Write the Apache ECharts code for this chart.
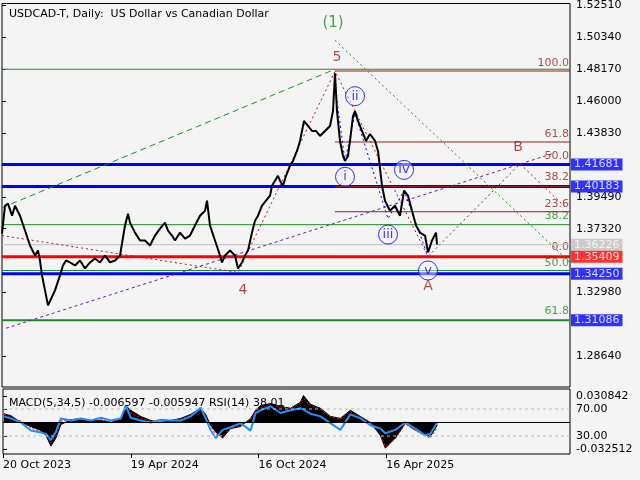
<!DOCTYPE html>
<html>
<head>
<meta charset="utf-8">
<script src="https://cdn.jsdelivr.net/npm/echarts@6/dist/echarts.min.js"></script>
<style>
  html, body { margin: 0; padding: 0; background: #f4f4f4; }
  #chart { width: 640px; height: 480px; }
</style>
</head>
<body>
<div id="chart"></div>
<script>
const FONT = "DejaVu Sans";

// bar index (trading days since 20 Oct 2023) and close price
const barIndex = [0, 3, 6, 10, 13, 18, 23, 28, 33, 36, 38, 40, 43, 46, 48, 53, 58, 61, 64, 68, 73, 78, 83, 88, 93, 98, 103, 108, 113, 118, 123, 126, 128, 133, 138, 143, 148, 153, 158, 163, 166, 170, 173, 178, 183, 188, 193, 198, 203, 205, 208, 213, 218, 220, 223, 228, 233, 236, 240, 243, 246, 250, 253, 256, 260, 264, 268, 270, 273, 276, 278, 281, 284, 288, 291, 295, 298, 300, 302, 306, 310, 314, 318, 323, 328, 331, 333, 335, 338, 341, 343, 346, 348, 351, 353, 356, 360, 364, 368, 373, 376, 380, 383, 388, 393, 398, 402, 406, 410, 414, 418, 423, 426, 430, 434, 435];
const closes = [1.3698, 1.3888, 1.3902, 1.3820, 1.3888, 1.3820, 1.3719, 1.3617, 1.3549, 1.3583, 1.3515, 1.3414, 1.3312, 1.3210, 1.3197, 1.3312, 1.3414, 1.3481, 1.3515, 1.3502, 1.3481, 1.3515, 1.3461, 1.3502, 1.3529, 1.3502, 1.3549, 1.3502, 1.3515, 1.3549, 1.3753, 1.3834, 1.3773, 1.3705, 1.3651, 1.3651, 1.3617, 1.3685, 1.3732, 1.3773, 1.3719, 1.3685, 1.3651, 1.3705, 1.3664, 1.3685, 1.3753, 1.3820, 1.3854, 1.3922, 1.3753, 1.3651, 1.3549, 1.3502, 1.3549, 1.3583, 1.3549, 1.3461, 1.3502, 1.3549, 1.3583, 1.3705, 1.3786, 1.3820, 1.3888, 1.3922, 1.3956, 1.4024, 1.4058, 1.4092, 1.4058, 1.4024, 1.4092, 1.4159, 1.4193, 1.4261, 1.4329, 1.4397, 1.4465, 1.4431, 1.4397, 1.4397, 1.4363, 1.4397, 1.4431, 1.4532, 1.4790, 1.4532, 1.4329, 1.4227, 1.4193, 1.4227, 1.4329, 1.4498, 1.4532, 1.4465, 1.4397, 1.4329, 1.4376, 1.4329, 1.4261, 1.4024, 1.3922, 1.3854, 1.3888, 1.3820, 1.3990, 1.3956, 1.3854, 1.3753, 1.3705, 1.3685, 1.3570, 1.3651, 1.3705, 1.3624];

// MACD histogram / RSI in indicator-pane units (RSI scale)
const indIndex = [1, 8, 18, 28, 38, 43, 48, 53, 58, 68, 78, 88, 98, 108, 118, 123, 128, 138, 148, 158, 168, 178, 188, 198, 203, 208, 213, 220, 228, 238, 248, 253, 258, 268, 278, 288, 298, 301, 308, 318, 328, 338, 348, 358, 368, 378, 383, 393, 403, 413, 423, 428, 435];
const macdHist = [63, 60, 50, 44, 38, 31, 15, 27, 47, 54, 56, 53, 53, 50, 56, 75, 68, 59, 53, 50, 53, 56, 62, 71, 62, 46, 36, 27, 41, 44, 56, 68, 75, 78, 74, 71, 80, 90, 77, 71, 59, 56, 68, 59, 50, 31, 12, 27, 49, 39, 32, 29, 46];
const rsiVals = [59, 56, 50, 38, 35, 33, 24, 36, 56, 53, 56, 53, 57, 53, 56, 75, 57, 53, 50, 54, 53, 53, 59, 72, 56, 39, 27, 39, 43, 49, 38, 64, 68, 74, 64, 68, 71, 69, 63, 59, 49, 39, 62, 56, 46, 41, 34, 39, 50, 41, 31, 33, 50];
const signalVals = [62, 58, 52, 42, 36, 32, 20, 30, 52, 54, 55, 53, 54, 51, 55, 72, 64, 57, 52, 51, 53, 55, 61, 69, 60, 44, 33, 30, 42, 45, 54, 66, 72, 76, 73, 71, 78, 86, 75, 70, 58, 55, 66, 58, 50, 33, 14, 26, 48, 38, 30, 27, 42];

const priceTicks = [1.52510, 1.50340, 1.48170, 1.46000, 1.43830, 1.39490, 1.37320, 1.32980, 1.28640];
const dateTicks = [0, 128, 256, 384];
const dateLabels = ["20 Oct 2023", "19 Apr 2024", "16 Oct 2024", "16 Apr 2025"];
const indTicks = [89.3, 70, 30, 10.7];
const indLabels = ["0.030842", "70.00", "30.00", "-0.032512"];

// level lines [price, color, width, startIndex]
const levels = [
  [1.4817, "#1e8c1e", 1, 0],
  [1.4805, "#a01e1e", 1, 333],
  [1.4322, "#a01e1e", 1, 333],
  [1.4165, "#1e8c1e", 1, 0],
  [1.41681, "#0000ff", 3, 0],
  [1.40183, "#0000ff", 3, 0],
  [1.4018, "#a01e1e", 1, 333],
  [1.3847, "#a01e1e", 1, 333],
  [1.3759, "#1e8c1e", 1, 0],
  [1.36226, "#c0c0c0", 1, 0],
  [1.35409, "#ff0000", 3, 0],
  [1.3447, "#1e8c1e", 1, 0],
  [1.34250, "#0000ff", 3, 0],
  [1.31086, "#1e8c1e", 2, 0]
];
// price boxes [price, background, text]
const priceBoxes = [
  [1.41681, "#0000ff", "#fff"],
  [1.40183, "#0000ff", "#fff"],
  [1.36226, "#c0c0c0", "#fff"],
  [1.35409, "#ff0000", "#fff"],
  [1.34250, "#0000ff", "#fff"],
  [1.31086, "#0000ff", "#fff"]
];
// fibo texts [text, price, color]
const fibTexts = [
  ["100.0", 1.4858, "#a01e1e"], ["61.8", 1.4376, "#a01e1e"], ["50.0", 1.4227, "#a01e1e"],
  ["38.2", 1.4085, "#a01e1e"], ["23.6", 1.3902, "#a01e1e"], ["38.2", 1.3814, "#1e8c1e"],
  ["0.0", 1.3603, "#a01e1e"], ["50.0", 1.3495, "#1e8c1e"], ["61.8", 1.3170, "#1e8c1e"]
];
// wave labels [text, index, price, color, size]
const waveTexts = [
  ["(1)", 331, 1.5129, "#1e8c1e", 15], ["5", 335, 1.4898, "#a01e1e", 14],
  ["4", 241, 1.3312, "#a01e1e", 14], ["A", 426, 1.3339, "#a01e1e", 14],
  ["B", 516, 1.4288, "#a01e1e", 14]
];
const waveCircles = [["i", 343, 1.4085], ["ii", 353, 1.4634], ["iii", 386, 1.3692], ["iv", 402, 1.4132], ["v", 426, 1.3447]];

// trend / wave lines [points, color, type]
const trendLines = [
  [[[0, 1.3874], [333, 1.4817]], "#1e8c1e", [6, 4]],
  [[[333, 1.5014], [568, 1.3502]], "#1e8c1e", [2, 3]],
  [[[4, 1.3054], [553, 1.4248]], "#6a1ea0", [3, 3]],
  [[[0, 1.3685], [236, 1.3434], [333, 1.4803], [426, 1.3543], [518, 1.4173], [565, 1.3868]], "#a01e1e", [2, 3]],
  [[[335, 1.4600], [343, 1.4193], [353, 1.4515], [386, 1.3800], [402, 1.3990], [426, 1.3543]], "#0000ff", [2, 3]]
];

const chart = echarts.init(document.getElementById("chart"));
const series = [];

for (const [v, color, w, start] of levels) {
  series.push({ type: "line", data: [[start, v], [568, v]], symbol: "none", silent: true,
    lineStyle: { color, width: w }, xAxisIndex: 0, yAxisIndex: 0 });
}
for (const [pts, color, dash] of trendLines) {
  series.push({ type: "line", data: pts, symbol: "none", silent: true,
    lineStyle: { color, width: 1, type: dash }, xAxisIndex: 0, yAxisIndex: 0 });
}
series.push({
  type: "line", data: barIndex.map((x, i) => [x, closes[i]]), symbol: "none",
  lineStyle: { color: "#000", width: 2 }, xAxisIndex: 0, yAxisIndex: 0, z: 5
});
series.push({
  type: "scatter", symbolSize: 0, clip: false, xAxisIndex: 0, yAxisIndex: 0,
  data: fibTexts.map(([t, v, c]) => ({ value: [567, v], label: { formatter: t, color: c } })),
  label: { show: true, position: "left", distance: 0, fontFamily: FONT, fontSize: 11 }
});
series.push({
  type: "scatter", symbolSize: 0, clip: false, xAxisIndex: 0, yAxisIndex: 0, z: 6,
  data: waveTexts.map(([t, x, v, c, s]) => ({ value: [x, v], label: { formatter: t, color: c, fontSize: s } })),
  label: { show: true, position: "inside", fontFamily: FONT }
});
series.push({
  type: "scatter", symbol: "circle", symbolSize: 19, clip: false, xAxisIndex: 0, yAxisIndex: 0, z: 6,
  itemStyle: { color: "rgba(244,244,244,0.6)", borderColor: "#0000ff", borderWidth: 1 },
  data: waveCircles.map(([t, x, v]) => ({ value: [x, v], label: { formatter: t } })),
  label: { show: true, position: "inside", color: "#0000ff", fontFamily: FONT, fontSize: 13 }
});
series.push({
  type: "scatter", symbolSize: 0, clip: false, xAxisIndex: 0, yAxisIndex: 0, z: 10,
  data: priceBoxes.map(([v, bg, fg]) => ({ value: [568, v],
    label: { formatter: v.toFixed(5), backgroundColor: bg, color: fg } })),
  label: { show: true, position: "right", distance: 1, fontFamily: FONT, fontSize: 11, padding: [1, 3, 0, 3] }
});

series.push({
  type: "line", data: indIndex.map((x, i) => [x, macdHist[i]]), symbol: "none",
  xAxisIndex: 1, yAxisIndex: 1, lineStyle: { color: "#000", width: 1 },
  areaStyle: { color: "#000", opacity: 1, origin: 50 }
});
series.push({
  type: "line", data: indIndex.map((x, i) => [x, signalVals[i]]), symbol: "none",
  xAxisIndex: 1, yAxisIndex: 1, lineStyle: { color: "#ff0000", width: 1, type: [2, 2] }
});
series.push({
  type: "line", data: indIndex.map((x, i) => [x, rsiVals[i]]), symbol: "none",
  xAxisIndex: 1, yAxisIndex: 1, lineStyle: { color: "#1e90ff", width: 2 }
});
series.push({
  type: "line", data: [[0, 50], [568, 50]], symbol: "none", silent: true,
  xAxisIndex: 1, yAxisIndex: 1, lineStyle: { color: "#000", width: 1 }
});

chart.setOption({
  animation: false,
  backgroundColor: "#f4f4f4",
  title: [
    { text: "USDCAD-T, Daily:  US Dollar vs Canadian Dollar", left: 4, top: 4,
      textStyle: { fontFamily: FONT, fontSize: 11, fontWeight: "normal", color: "#000" } },
    { text: "MACD(5,34,5) -0.006597 -0.005947 RSI(14) 38.01", left: 4, top: 393,
      textStyle: { fontFamily: FONT, fontSize: 11, fontWeight: "normal", color: "#000" } }
  ],
  grid: [
    { left: 2, top: 2, width: 568, height: 385, show: true, borderColor: "#000", borderWidth: 1, backgroundColor: "transparent" },
    { left: 2, top: 389, width: 568, height: 65, show: true, borderColor: "#000", borderWidth: 1, backgroundColor: "transparent" }
  ],
  xAxis: [
    { type: "value", gridIndex: 0, min: 0, max: 568, show: false },
    { type: "value", gridIndex: 1, min: 0, max: 568,
      axisLine: { show: false }, splitLine: { show: false },
      axisTick: { show: true, customValues: dateTicks, length: 4, inside: false, lineStyle: { color: "#000" } },
      axisLabel: { customValues: dateTicks, fontFamily: FONT, fontSize: 11, color: "#000", align: "left", margin: 6,
        formatter: (v) => dateLabels[dateTicks.indexOf(v)] || "" } }
  ],
  yAxis: [
    { type: "value", gridIndex: 0, position: "right", min: 1.2654, max: 1.52646,
      axisLine: { show: false }, splitLine: { show: false },
      axisTick: { show: true, customValues: priceTicks, length: 4, lineStyle: { color: "#000" } },
      axisLabel: { customValues: priceTicks, fontFamily: FONT, fontSize: 11, color: "#000", margin: 6,
        formatter: (v) => v.toFixed(5) } },
    { type: "value", gridIndex: 1, position: "right", min: 3.3, max: 99.6,
      axisLine: { show: false },
      splitLine: { show: false },
      axisTick: { show: true, customValues: indTicks, length: 4, lineStyle: { color: "#000" } },
      axisLabel: { customValues: indTicks, fontFamily: FONT, fontSize: 11, color: "#000", margin: 6,
        formatter: (v) => indLabels[indTicks.indexOf(v)] || "" } }
  ],
  series: series.concat([
    { type: "line", data: [[0, 70], [568, 70]], symbol: "none", silent: true, xAxisIndex: 1, yAxisIndex: 1,
      lineStyle: { color: "#bbb", width: 1, type: [3, 3] } },
    { type: "line", data: [[0, 30], [568, 30]], symbol: "none", silent: true, xAxisIndex: 1, yAxisIndex: 1,
      lineStyle: { color: "#bbb", width: 1, type: [3, 3] } }
  ])
});
</script>
</body>
</html>
